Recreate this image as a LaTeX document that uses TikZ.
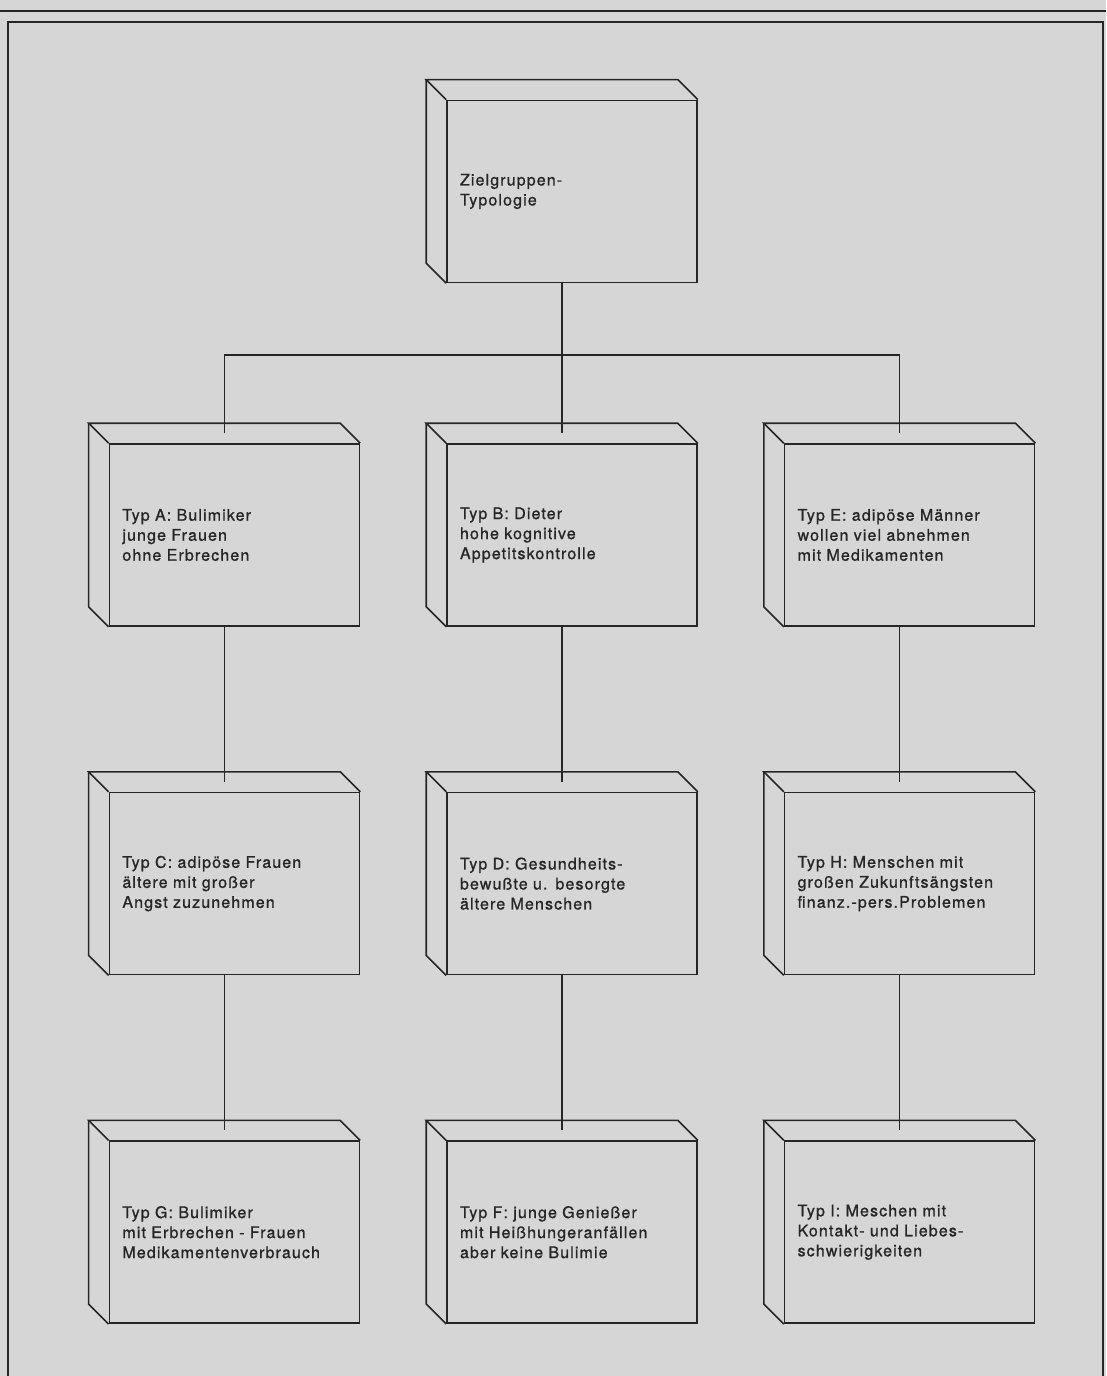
\documentclass[tikz,border=0pt]{standalone}
\usepackage{fontspec}
\setmainfont{TeX Gyre Heros}[LetterSpace=7,FakeBold=1]
\usepackage{tikz}
\usetikzlibrary{positioning,calc}
\definecolor{ScanGray}{RGB}{214,214,214}
\definecolor{InkGray}{RGB}{38,38,38}

\begin{document}
\begin{tikzpicture}[
  x=1pt,y=1pt,
  box/.style={draw=InkGray,line width=1.6pt,align=left,text width=224pt,inner xsep=13pt,
              inner ysep=0pt,minimum height=182pt,text=InkGray,font=\fontsize{16}{20}\selectfont},
  link/.style={draw=InkGray,line width=1.6pt}
]
\useasboundingbox[fill=ScanGray] (0,0) rectangle (1106,-1376);
\draw[InkGray,line width=2pt] (0,-11) -- (1106,-11);
\draw[InkGray,line width=1.6pt] (8,-1376) -- (8,-22) -- (1103,-22) -- (1103,-1376);

\node[box] (B) at (572,-535) {Typ B: Dieter\\hohe kognitive\\Appetitskontrolle};
\node[box,left=86pt of B] (A) {Typ A: Bulimiker\\junge Frauen\\ohne Erbrechen};
\node[box,right=86pt of B] (E) {Typ E: adipöse Männer\\wollen viel abnehmen\\mit Medikamenten};
\node[box,above=160pt of B] (root) {Zielgruppen-\\Typologie};
\node[box,below=165pt of A] (C) {Typ C: adipöse Frauen\\ältere mit großer\\Angst zuzunehmen};
\node[box,below=165pt of B] (D) {Typ D: Gesundheits-\\bewußte u. besorgte\\ältere Menschen};
\node[box,below=165pt of E] (H) {Typ H: Menschen mit\\großen Zukunftsängsten\\finanz.-pers.Problemen};
\node[box,below=165pt of C] (G) {Typ G: Bulimiker\\mit Erbrechen - Frauen\\Medikamentenverbrauch};
\node[box,below=165pt of D] (F) {Typ F: junge Genießer\\mit Heißhungeranfällen\\aber keine Bulimie};
\node[box,below=165pt of H] (I) {Typ I: Meschen mit\\Kontakt- und Liebes-\\schwierigkeiten};

\foreach \n in {root,A,B,C,D,E,F,G,H,I}{
  \draw[link] (\n.north west) -- ++(-20,20) -- ($(\n.north east)+(-20,20)$) -- (\n.north east);
  \draw[link] ($(\n.north west)+(-20,20)$) -- ($(\n.south west)+(-20,20)$) -- (\n.south west);
  \coordinate (\n-top) at ($(\n.north)+(-10,10)$);
  \coordinate (\n-bot) at ($(\n.south)+(-10,0)$);
}

\coordinate (bus) at ($(root-bot)+(0,-72)$);
\draw[link] (root-bot) -- (bus);
\draw[link] (A-top) |- (bus) -| (E-top);
\draw[link] (bus) -- (B-top);
\draw[link] (A-bot) -- (C-top);
\draw[link] (B-bot) -- (D-top);
\draw[link] (E-bot) -- (H-top);
\draw[link] (C-bot) -- (G-top);
\draw[link] (D-bot) -- (F-top);
\draw[link] (H-bot) -- (I-top);
\end{tikzpicture}
\end{document}
